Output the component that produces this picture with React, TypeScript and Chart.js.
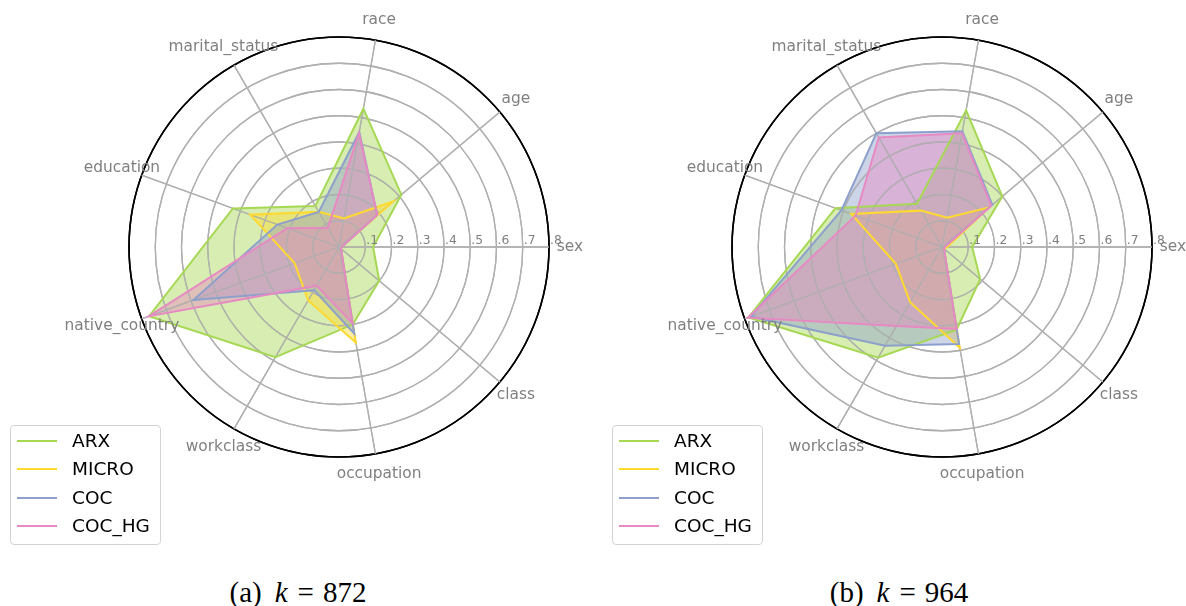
import React, { useEffect, useRef } from 'react';
import { Chart, registerables } from 'chart.js';

Chart.register(...registerables);

// Axes in Chart.js order (clockwise from the right-hand "sex" axis)
const CATEGORIES = ['sex', 'class', 'occupation', 'workclass', 'native_country', 'education', 'marital_status', 'race', 'age'];
const SERIES_NAMES = ['ARX', 'MICRO', 'COC', 'COC_HG'];
const SERIES_COLORS = ['#a6d854', '#ffd92f', '#8da0cb', '#e78ac3'];
const TICK_VALUES = [0.1, 0.2, 0.3, 0.4, 0.5, 0.6, 0.7, 0.8];
const TICK_LABELS = ['.1', '.2', '.3', '.4', '.5', '.6', '.7', '.8'];

// (a) k = 872
const K872_ARX = [0.13, 0.2, 0.3, 0.485, 0.77, 0.43, 0.18, 0.535, 0.31];
const K872_MICRO = [0.01, 0.01, 0.37, 0.235, 0.18, 0.36, 0.155, 0.11, 0.27];
const K872_COC = [0.01, 0.01, 0.335, 0.19, 0.59, 0.25, 0.154, 0.445, 0.19];
const K872_COC_HG = [0.01, 0.01, 0.295, 0.17, 0.77, 0.21, 0.085, 0.44, 0.19];

// (b) k = 964
const K964_ARX = [0.115, 0.19, 0.32, 0.487, 0.785, 0.432, 0.19, 0.529, 0.3];
const K964_MICRO = [0.02, 0.01, 0.39, 0.243, 0.187, 0.368, 0.16, 0.113, 0.235];
const K964_COC = [0.01, 0.01, 0.375, 0.434, 0.775, 0.408, 0.5, 0.448, 0.25];
const K964_COC_HG = [0.01, 0.01, 0.317, 0.347, 0.787, 0.35, 0.482, 0.44, 0.245];

function rgba(hex: string, a: number) {
  const n = parseInt(hex.slice(1), 16);
  return `rgba(${(n >> 16) & 255},${(n >> 8) & 255},${n & 255},${a})`;
}

const gridOverFill = {
  id: 'gridOverFill',
  beforeDatasetsDraw(chart: any) {
    const s = chart.scales.r;
    if (s && s.drawGrid) s.drawGrid(chart.chartArea);
  },
};

const labelPlugin = {
  id: 'labelPlugin',
  afterDraw(chart: any) {
    const s = chart.scales.r;
    const ctx = chart.ctx;
    ctx.save();
    // category labels
    ctx.fillStyle = '#808080';
    ctx.font = '15.4px "DejaVu Sans"';
    ctx.textAlign = 'center';
    ctx.textBaseline = 'middle';
    chart.data.labels.forEach((lab: string, i: number) => {
      const p = s.getPointPosition(i, s.drawingArea * 1.1);
      ctx.fillText(lab, p.x, p.y);
    });
    // radial tick labels along the "sex" axis
    ctx.font = '12.3px "DejaVu Sans"';
    ctx.textAlign = 'left';
    ctx.textBaseline = 'alphabetic';
    TICK_VALUES.forEach((v, i) => {
      const d = s.getDistanceFromCenterForValue(v);
      ctx.fillText(TICK_LABELS[i], s.xCenter + d + 1, s.yCenter - 3);
    });
    ctx.restore();
  },
};

const CANVAS_W = 593;
const CANVAS_H = 570;
const RADIUS = 210;
const CENTER_Y = 247;

function RadarPanel(props: { values: number[][]; left: number; centerX: number; letter: string; k: string; captionX: number; legendX: number }) {
  const ref = useRef<HTMLCanvasElement | null>(null);
  useEffect(() => {
    if (!ref.current) return;
    const cxLocal = props.centerX - props.left;
    const chart = new Chart(ref.current, {
      type: 'radar',
      data: {
        labels: CATEGORIES,
        datasets: SERIES_NAMES.map((name, i) => ({
          label: name,
          data: props.values[i],
          borderColor: SERIES_COLORS[i],
          backgroundColor: rgba(SERIES_COLORS[i], 0.45),
          borderWidth: 2,
          pointRadius: 0,
          pointHoverRadius: 0,
          fill: true,
          tension: 0,
          order: SERIES_NAMES.length - 1 - i,
        })),
      },
      options: {
        responsive: false,
        animation: false,
        layout: {
          padding: {
            left: cxLocal - RADIUS,
            right: CANVAS_W - (cxLocal + RADIUS),
            top: CENTER_Y - RADIUS,
            bottom: CANVAS_H - (CENTER_Y + RADIUS),
          },
        },
        plugins: {
          legend: { display: false },
          tooltip: { enabled: false },
          filler: { drawTime: 'beforeDatasetsDraw' },
        } as any,
        scales: {
          r: {
            min: 0,
            max: 0.8,
            startAngle: 90,
            ticks: { display: false, stepSize: 0.1 },
            pointLabels: { display: false },
            grid: {
              circular: true,
              color: (c: any) => (c.tick && c.tick.value > 0.75 ? '#000000' : '#b0b0b0'),
              lineWidth: (c: any) => (c.tick && c.tick.value > 0.75 ? 1.6 : 1.3),
            },
            angleLines: { color: '#b0b0b0', lineWidth: 1.3 },
          },
        } as any,
      },
      plugins: [gridOverFill, labelPlugin],
    });
    return () => chart.destroy();
  }, []);

  const legendTop = 425;
  const rowYs = [441, 469, 497.5, 526];
  return (
    <>
      <canvas
        ref={ref}
        width={CANVAS_W}
        height={CANVAS_H}
        style={{ position: 'absolute', left: props.left, top: 0, width: CANVAS_W, height: CANVAS_H }}
      />
      <div
        style={{
          position: 'absolute',
          left: props.legendX,
          top: legendTop,
          width: 151,
          height: 120,
          boxSizing: 'border-box',
          border: '1.5px solid #d3d3d3',
          borderRadius: 4,
          background: 'rgba(255,255,255,0.8)',
        }}
      />
      {SERIES_NAMES.map((name, i) => (
        <React.Fragment key={name}>
          <div
            style={{
              position: 'absolute',
              left: props.legendX + 7,
              top: rowYs[i] - 1,
              width: 40,
              height: 2,
              background: SERIES_COLORS[i],
            }}
          />
          <div
            style={{
              position: 'absolute',
              left: props.legendX + 62,
              top: rowYs[i] - 9,
              fontFamily: '"DejaVu Sans"',
              fontSize: '18.5px',
              lineHeight: '18.5px',
              color: '#000',
              whiteSpace: 'nowrap',
            }}
          >
            {name}
          </div>
        </React.Fragment>
      ))}
      <div
        style={{
          position: 'absolute',
          left: props.captionX - 100,
          width: 200,
          top: 578,
          textAlign: 'center',
          fontFamily: '"Liberation Serif", serif',
          fontSize: '29px',
          lineHeight: '29px',
          color: '#000',
          whiteSpace: 'nowrap',
        }}
      >
        <span>({props.letter})</span>
        <span style={{ fontStyle: 'italic', marginLeft: 13 }}>k</span>
        <span style={{ marginLeft: 10 }}>=</span>
        <span style={{ marginLeft: 9 }}>{props.k}</span>
      </div>
    </>
  );
}

export default function App() {
  return (
    <div style={{ position: 'absolute', left: 0, top: 0, width: 1186, height: 606, background: '#fff', overflow: 'hidden' }}>
      <RadarPanel
        values={[K872_ARX, K872_MICRO, K872_COC, K872_COC_HG]}
        left={0}
        centerX={339}
        letter="a"
        k="872"
        captionX={298}
        legendX={10}
      />
      <RadarPanel
        values={[K964_ARX, K964_MICRO, K964_COC, K964_COC_HG]}
        left={593}
        centerX={942}
        letter="b"
        k="964"
        captionX={899}
        legendX={612}
      />
    </div>
  );
}
